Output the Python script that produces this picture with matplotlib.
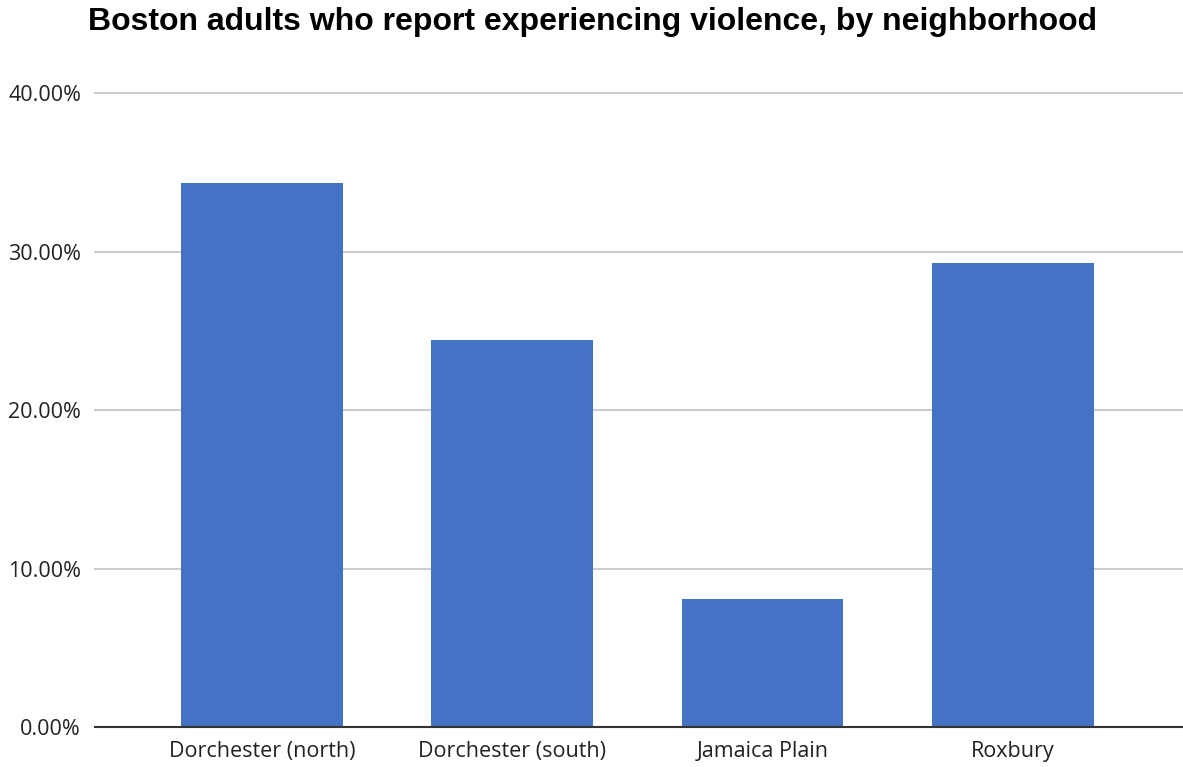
import matplotlib
matplotlib.use("Agg")
import matplotlib.pyplot as plt
from matplotlib.ticker import FuncFormatter

neighborhoods = ["Dorchester (north)", "Dorchester (south)", "Jamaica Plain", "Roxbury"]
violence_pct = [34.3, 24.4, 8.1, 29.3]
y_ticks = [0, 10, 20, 30, 40]

fig = plt.figure(figsize=(11.83, 7.67), dpi=100)
ax = fig.add_axes([0.0803, 0.0521, 0.9197, 0.8266])

x = list(range(len(neighborhoods)))
ax.bar(x, violence_pct, width=0.647, color="#4472c4", zorder=3)

ax.set_xlim(-0.667, 3.68)
ax.set_ylim(0, 40)
ax.set_yticks(y_ticks)
ax.yaxis.set_major_formatter(FuncFormatter(lambda v, _: f"{v:.2f}%"))
ax.set_xticks(x)
ax.set_xticklabels(neighborhoods)

for t in ax.get_yticklabels() + ax.get_xticklabels():
    t.set_fontfamily("Open Sans")
    t.set_fontsize(15.5)
    t.set_color("#222222")

ax.tick_params(axis="both", length=0)
ax.tick_params(axis="y", pad=10)
ax.tick_params(axis="x", pad=10)

ax.grid(axis="y", color="#cccccc", linewidth=1.5, zorder=0, clip_on=False)
for side in ["top", "right", "left"]:
    ax.spines[side].set_visible(False)
ax.spines["bottom"].set_color("#333333")
ax.spines["bottom"].set_linewidth(1.5)
ax.spines["bottom"].set_zorder(4)

fig.text(0.501, 0.971, "Boston adults who report experiencing violence, by neighborhood",
         ha="center", va="center", fontsize=23, fontweight="bold",
         fontfamily="Liberation Sans", color="#000000")

fig.savefig("out.png", dpi=100, facecolor="white")
